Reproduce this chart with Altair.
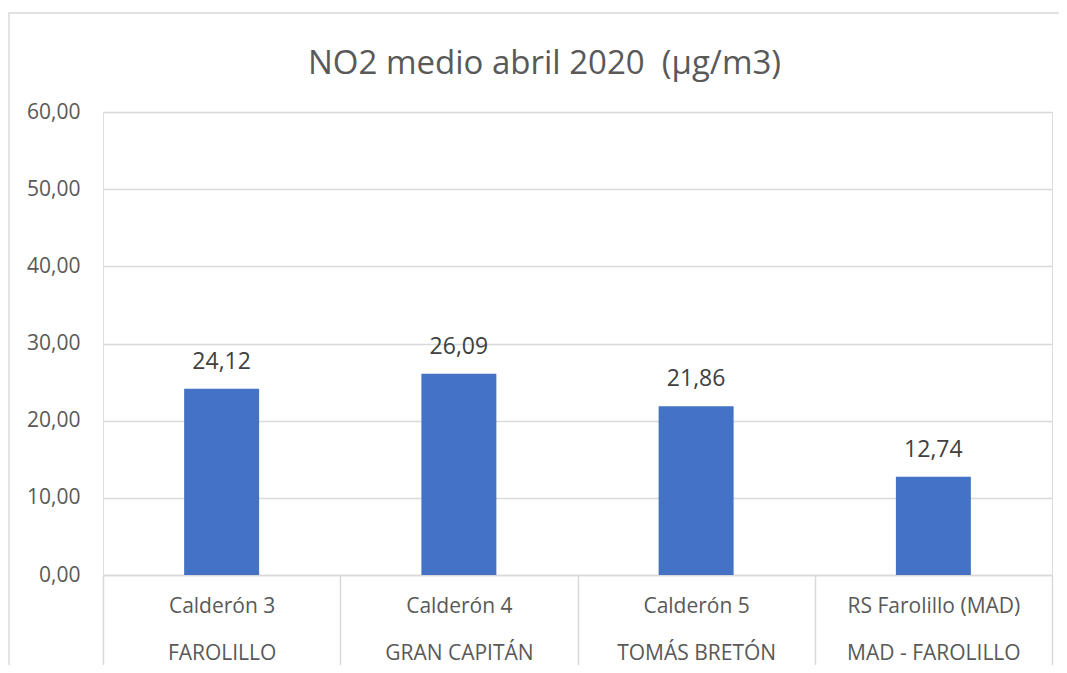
import altair as alt
import pandas as pd

stations = ["Calderón 3", "Calderón 4", "Calderón 5", "RS Farolillo (MAD)"]
zones = ["FAROLILLO", "GRAN CAPITÁN", "TOMÁS BRETÓN", "MAD - FAROLILLO"]
no2 = [24.12, 26.09, 21.86, 12.74]
y_ticks = [0, 10, 20, 30, 40, 50, 60]
title_text = "NO2 medio abril 2020\u00a0 (µg/m3)"

cats = [f"{s}|{z}" for s, z in zip(stations, zones)]
df = pd.DataFrame({"cat": cats, "no2": no2})

FONT = "Open Sans"
GRID = "#d9d9d9"

x_enc = alt.X(
    "cat:N",
    sort=cats,
    title=None,
    scale=alt.Scale(paddingInner=0, paddingOuter=0),
    axis=alt.Axis(
        labelExpr="split(datum.label, '|')",
        labelAngle=0,
        labelFont=FONT,
        labelFontSize=21,
        labelColor="#595959",
        labelLineHeight=47,
        labelBaseline="top",
        labelPadding=-72,
        labelOverlap=False,
        labelBound=False,
        tickBand="extent",
        tickSize=92,
        tickColor=GRID,
        tickWidth=1.5,
        domainColor=GRID,
        domainWidth=1.5,
        grid=False,
    ),
)

y_enc = alt.Y(
    "no2:Q",
    title=None,
    scale=alt.Scale(domain=[0, 60], nice=False),
    axis=alt.Axis(
        values=y_ticks,
        labelExpr="replace(format(datum.value, '.2f'), '.', ',')",
        labelFont=FONT,
        labelFontSize=21,
        labelColor="#595959",
        labelPadding=23,
        ticks=False,
        domain=False,
        grid=True,
        gridColor=GRID,
        gridWidth=1.5,
    ),
)

base = alt.Chart(df).encode(x=x_enc)

bars = base.mark_bar(color="#4472C4", width=alt.RelativeBandSize(0.316)).encode(y=y_enc)

labels = (
    base.transform_calculate(lbl="replace(format(datum.no2, '.2f'), '.', ',')")
    .mark_text(font=FONT, fontSize=23, color="#404040", baseline="alphabetic", dy=-20)
    .encode(y=alt.Y("no2:Q"), text="lbl:N")
)

frame = (
    alt.Chart(pd.DataFrame({"k": [0]}))
    .mark_rect(fillOpacity=0, stroke=GRID, strokeWidth=1.5)
    .encode(x=alt.value(-94), x2=alt.value(975), y=alt.value(-99), y2=alt.value(570))
)

chart = (
    alt.layer(frame, bars, labels)
    .properties(
        width=949,
        height=463,
        autosize=alt.AutoSizeParams(type="none"),
        padding={"left": 95, "top": 104, "right": 7, "bottom": 90},
        title=alt.TitleParams(
            title_text,
            font=FONT,
            fontSize=33,
            fontWeight="normal",
            color="#595959",
            anchor="middle",
            baseline="alphabetic",
            dx=-33,
            offset=-95,
        ),
    )
    .configure_view(stroke=None)
    .configure(background="white")
)

chart.save("out.html", embed_options={"renderer": "svg", "actions": False})
